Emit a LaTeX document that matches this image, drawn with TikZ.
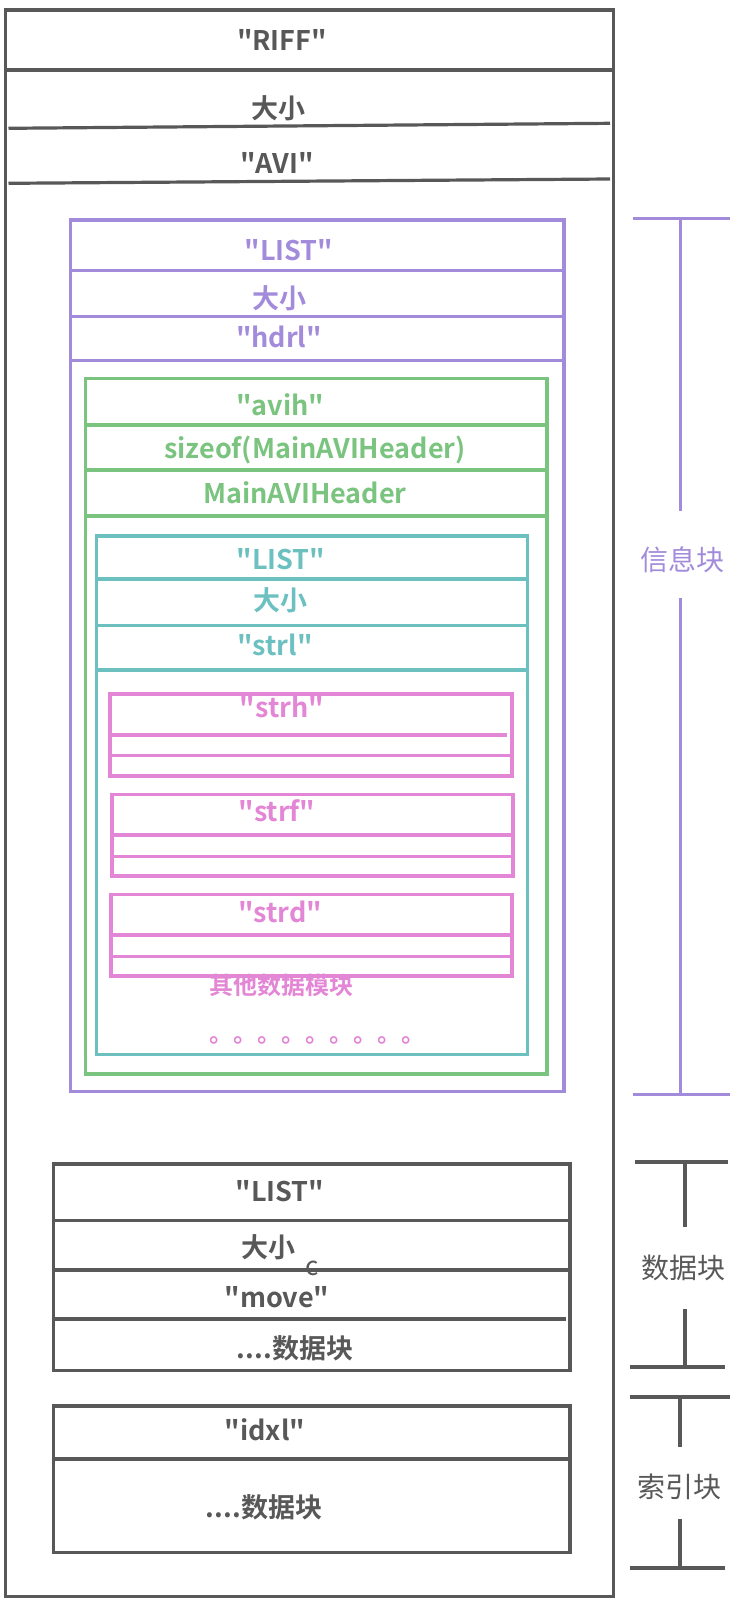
\documentclass[tikz,border=0pt]{standalone}
\usepackage{fontspec}
\setmainfont{Noto Sans CJK SC}[BoldFont = * Bold]
\usepackage{tikz}
\definecolor{riffgray}{HTML}{585858}
\definecolor{hdrlpurple}{HTML}{A38BDB}
\definecolor{avihgreen}{HTML}{7BC47F}
\definecolor{strlteal}{HTML}{6DC0C0}
\definecolor{strpink}{HTML}{E386D5}
\newcommand{\fourcc}[1]{\textquotedbl#1\textquotedbl}
\tikzset{field/.style = {font = \bfseries\fontsize{27}{32}\selectfont, inner sep = 0pt, text height = 20pt, text depth = 0pt}}
\tikzset{subfield/.style = {font = \bfseries\fontsize{24}{28}\selectfont, inner sep = 0pt, text height = 17.6pt, text depth = 0pt}}
\tikzset{side/.style = {font = \fontsize{28}{32}\selectfont, inner sep = 0pt, text height = 20.5pt, text depth = 0pt}}
\tikzset{frame/.style = {line width = 3.2pt}}

\begin{document}
\begin{tikzpicture}[x = 1pt, y = -1pt]
			\useasboundingbox (0, 0) rectangle (743, 1606);

			% RIFF
			\draw[frame, riffgray] (5.7, 10) rectangle (613.7, 1596.7);
			\draw[frame, riffgray] (5.7, 70) -- (613.7, 70);
			\draw[frame, riffgray] (8.5, 128.3) -- (610, 123.3);
			\draw[frame, riffgray] (8.5, 183.3) -- (610, 179);
			\node[field, riffgray] (riff) at (282, 40) {\fourcc{RIFF}};
			\node[field, riffgray] (riffsize) at (278, 108) {大小};
			\node[field, riffgray] (avi) at (277, 163) {\fourcc{AVI}};

			% hdrl
			\draw[frame, hdrlpurple] (70.7, 220) rectangle (564, 1091.4);
			\draw[frame, hdrlpurple] (70.7, 270.7) -- (564, 270.7);
			\draw[frame, hdrlpurple] (70.7, 316.7) -- (564, 316.7);
			\draw[frame, hdrlpurple] (70.7, 360.7) -- (564, 360.7);
			\node[field, hdrlpurple] (hlist) at (289, 250) {\fourcc{LIST}};
			\node[field, hdrlpurple] (hsize) at (279, 298) {大小};
			\node[field, hdrlpurple] (hdrl) at (279, 337) {\fourcc{hdrl}};

			% avih
			\draw[frame, avihgreen] (85.2, 378.3) rectangle (547, 1074);
			\draw[frame, avihgreen] (85.2, 425) -- (547, 425);
			\draw[frame, avihgreen] (85.2, 470) -- (547, 470);
			\draw[frame, avihgreen] (85.2, 516) -- (547, 516);
			\node[field, avihgreen] (avih) at (280, 405) {\fourcc{avih}};
			\node[field, avihgreen] (avisize) at (315, 448) {sizeof(MainAVIHeader)};
			\node[field, avihgreen] (avihdr) at (305, 493) {MainAVIHeader};

			% strl
			\draw[frame, strlteal] (96.5, 536) rectangle (527.7, 1054.6);
			\draw[frame, strlteal] (96.5, 579) -- (527.7, 579);
			\draw[frame, strlteal] (96.5, 625.4) -- (527.7, 625.4);
			\draw[frame, strlteal] (96.5, 670) -- (527.7, 670);
			\node[field, strlteal] (slist) at (281, 559) {\fourcc{LIST}};
			\node[field, strlteal] (ssize) at (280, 600) {大小};
			\node[field, strlteal] (strl) at (275, 645) {\fourcc{strl}};

			% strh, strf, strd
			\draw[frame, strpink] (110, 694) rectangle (512, 776);
			\draw[frame, strpink] (110, 735) -- (507, 735);
			\draw[frame, strpink] (110, 755.7) -- (512, 755.7);
			\node[field, strpink] (strh) at (282, 707) {\fourcc{strh}};
			\draw[frame, strpink] (112, 794.3) rectangle (513, 876);
			\draw[frame, strpink] (112, 835) -- (513, 835);
			\draw[frame, strpink] (112, 856.4) -- (513, 856.4);
			\node[field, strpink] (strf) at (277, 811) {\fourcc{strf}};
			\draw[frame, strpink] (111, 894.3) rectangle (512, 976);
			\draw[frame, strpink] (111, 935) -- (512, 935);
			\draw[frame, strpink] (111, 956.4) -- (512, 956.4);
			\node[field, strpink] (strd) at (280, 912) {\fourcc{strd}};
			\node[subfield, strpink] (other) at (281, 986) {其他数据模块};
			\node[subfield, strpink, anchor = base] (dots) at (317, 1042.4) {。。。。。。。。。};

			% movi
			\draw[frame, riffgray] (53.6, 1164) rectangle (570, 1370.7);
			\draw[frame, riffgray] (53.6, 1220.7) -- (570, 1220.7);
			\draw[frame, riffgray] (53.6, 1270) -- (570, 1270);
			\draw[frame, riffgray] (53.6, 1319) -- (566, 1319);
			\node[field, riffgray] (mlist) at (280, 1191) {\fourcc{LIST}};
			\node[field, riffgray] (msize) at (268, 1247) {大小};
			\node[font = \fontsize{26}{30}\selectfont, riffgray, inner sep = 0pt] (mark) at (312, 1268) {c};
			\node[field, riffgray] (move) at (277, 1297) {\fourcc{move}};
			\node[field, riffgray] (mdata) at (295, 1348) {....数据块};

			% idxl
			\draw[frame, riffgray] (53.6, 1406) rectangle (570, 1552.7);
			\draw[frame, riffgray] (53.6, 1459) -- (570, 1459);
			\node[field, riffgray] (idxl) at (265, 1430) {\fourcc{idxl}};
			\node[field, riffgray] (idata) at (264, 1507) {....数据块};

			% side brackets
			\node[side, hdrlpurple] (info) at (682, 560) {信息块};
			\coordinate (infotop) at (680.5, 218.3);
			\coordinate (infobot) at (680.5, 1094.5);
			\draw[frame, hdrlpurple] (633, 218.3) -- (730, 218.3);
			\draw[frame, hdrlpurple] (infotop) -- (680.5, 511);
			\draw[frame, hdrlpurple] (680.5, 597.5) -- (infobot);
			\draw[frame, hdrlpurple] (633, 1094.5) -- (730, 1094.5);

			\node[side, riffgray] (data) at (683, 1268) {数据块};
			\coordinate (datatop) at (685, 1162);
			\coordinate (databot) at (685, 1367);
			\draw[frame, riffgray] (635, 1162) -- (728, 1162);
			\draw[frame, riffgray] (datatop) -- (685, 1227);
			\draw[frame, riffgray] (685, 1309) -- (databot);
			\draw[frame, riffgray] (630, 1367) -- (725, 1367);

			\node[side, riffgray] (index) at (679, 1487) {索引块};
			\coordinate (indextop) at (680, 1397);
			\coordinate (indexbot) at (680, 1568);
			\draw[frame, riffgray] (630, 1397) -- (730, 1397);
			\draw[frame, riffgray] (indextop) -- (680, 1447);
			\draw[frame, riffgray] (680, 1519) -- (indexbot);
			\draw[frame, riffgray] (630, 1568) -- (725, 1568);
		\end{tikzpicture}
\end{document}
